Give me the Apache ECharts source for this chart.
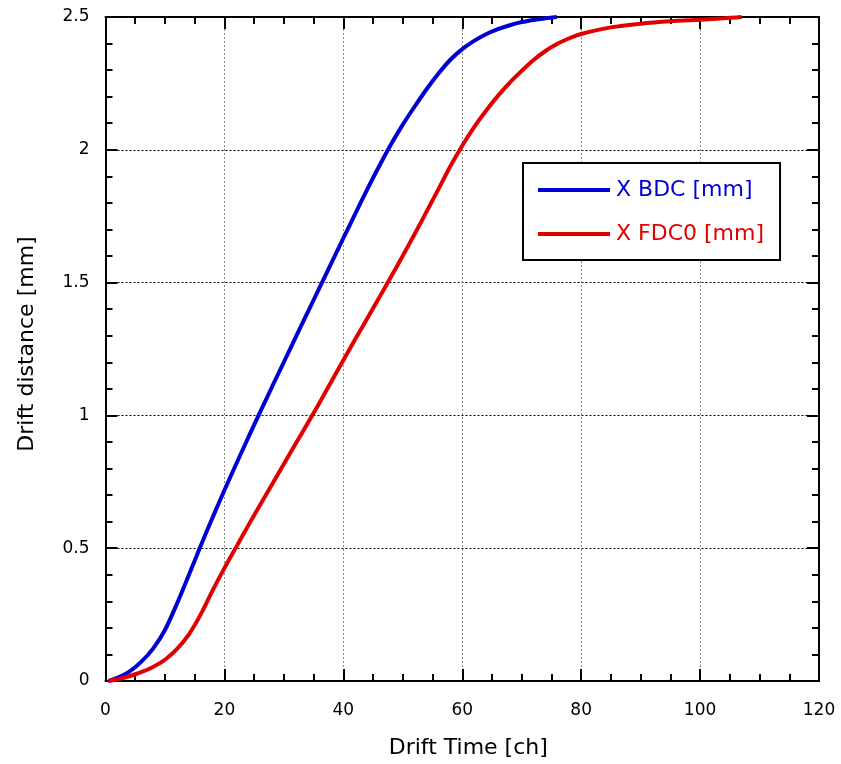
<!DOCTYPE html>
<html>
<head>
<meta charset="utf-8">
<script src="https://cdn.jsdelivr.net/npm/echarts@6/dist/echarts.min.js"></script>
<style>
html,body{margin:0;padding:0;background:#fff;}
#chart{width:841px;height:764px;}
</style>
</head>
<body>
<div id="chart"></div>
<script>
// Data (x: drift time [ch], y: drift distance [mm])
var seriesNames = ['X BDC [mm]', 'X FDC0 [mm]'];
var bdcX = [0.5, 2, 4, 6, 8, 10, 12, 14, 16, 18, 20, 22, 24, 26, 28, 30, 32, 34, 36, 38, 40, 42, 44, 46, 48, 50, 52, 54, 56, 58, 60, 62, 64, 66, 68, 70, 72, 74, 75.9];
var bdcY = [0, 0.012, 0.035, 0.072, 0.122, 0.192, 0.29, 0.398, 0.508, 0.615, 0.718, 0.818, 0.916, 1.012, 1.107, 1.201, 1.295, 1.388, 1.481, 1.574, 1.667, 1.759, 1.85, 1.937, 2.02, 2.095, 2.163, 2.228, 2.287, 2.339, 2.379, 2.41, 2.435, 2.454, 2.469, 2.481, 2.489, 2.495, 2.5];
var fdcX = [0.5, 2, 4, 6, 8, 10, 12, 14, 16, 18, 20, 22, 24, 26, 28, 30, 32, 34, 36, 38, 40, 42, 44, 46, 48, 50, 52, 54, 56, 58, 60, 62, 64, 66, 68, 70, 72, 74, 76, 78, 80, 85, 90, 95, 100, 104, 107];
var fdcY = [0, 0.006, 0.018, 0.033, 0.053, 0.08, 0.12, 0.175, 0.25, 0.34, 0.425, 0.505, 0.585, 0.663, 0.74, 0.817, 0.894, 0.97, 1.048, 1.128, 1.208, 1.287, 1.364, 1.442, 1.521, 1.601, 1.683, 1.767, 1.852, 1.938, 2.015, 2.085, 2.147, 2.203, 2.253, 2.297, 2.338, 2.372, 2.399, 2.42, 2.436, 2.461, 2.475, 2.484, 2.49, 2.495, 2.5];
var xTicks = [0, 20, 40, 60, 80, 100, 120];
var yTicks = [0, 0.5, 1, 1.5, 2, 2.5];

function pairs(xs, ys) { return xs.map(function (x, i) { return [x, ys[i]]; }); }

var FONT = 'DejaVu Sans';
var blue = '#0000d2';
var red = '#e00000';

var chart = echarts.init(document.getElementById('chart'));

var baseAxis = {
  axisLine: { show: true, onZero: false, lineStyle: { color: '#000', width: 2 } },
  axisTick: { show: true, inside: true, length: 12, lineStyle: { color: '#000', width: 2 } },
  minorTick: { show: true, length: 7, lineStyle: { color: '#000', width: 2 } }
};

chart.setOption({
  animation: false,
  backgroundColor: '#fff',
  grid: { left: 105.5, right: 22, top: 17, bottom: 82, containLabel: false },
  legend: {
    orient: 'vertical',
    left: 523,
    top: 163,
    padding: [16, 16, 15, 15],
    itemGap: 22,
    itemWidth: 72,
    itemHeight: 4,
    icon: 'rect',
    borderColor: '#000',
    borderWidth: 2,
    backgroundColor: '#fff',
    textStyle: { fontFamily: FONT, fontSize: 22, padding: [0, 0, 0, 1] },
    data: [
      { name: seriesNames[0], textStyle: { color: blue } },
      { name: seriesNames[1], textStyle: { color: red } }
    ]
  },
  xAxis: [
    Object.assign({}, baseAxis, {
      type: 'value', min: xTicks[0], max: xTicks[xTicks.length - 1], interval: 20,
      position: 'bottom',
      minorTick: Object.assign({}, baseAxis.minorTick, { splitNumber: 4 }),
      axisLabel: { fontFamily: FONT, fontSize: 17, color: '#000', margin: 21 },
      splitLine: { show: true, lineStyle: { color: '#8a8a8a', type: [2, 2], width: 1 } },
      name: 'Drift Time [ch]', nameLocation: 'middle', nameGap: 56,
      nameTextStyle: { fontFamily: FONT, fontSize: 22, color: '#000', padding: [0, 0, 0, 12] }
    }),
    Object.assign({}, baseAxis, {
      type: 'value', min: xTicks[0], max: xTicks[xTicks.length - 1], interval: 20,
      position: 'top',
      minorTick: Object.assign({}, baseAxis.minorTick, { splitNumber: 4 }),
      axisLabel: { show: false },
      splitLine: { show: false }
    })
  ],
  yAxis: [
    Object.assign({}, baseAxis, {
      type: 'value', min: yTicks[0], max: yTicks[yTicks.length - 1], interval: 0.5,
      position: 'left',
      minorTick: Object.assign({}, baseAxis.minorTick, { splitNumber: 5 }),
      axisLabel: { fontFamily: FONT, fontSize: 17, color: '#000', margin: 16 },
      splitLine: { show: true, lineStyle: { color: '#000', type: [2, 2], width: 1 } },
      name: 'Drift distance [mm]', nameLocation: 'middle', nameGap: 67, nameRotate: 90,
      nameTextStyle: { fontFamily: FONT, fontSize: 22, color: '#000', padding: [0, 0, 0, 10] }
    }),
    Object.assign({}, baseAxis, {
      type: 'value', min: yTicks[0], max: yTicks[yTicks.length - 1], interval: 0.5,
      position: 'right',
      minorTick: Object.assign({}, baseAxis.minorTick, { splitNumber: 5 }),
      axisLabel: { show: false },
      splitLine: { show: false }
    })
  ],
  series: [
    {
      name: seriesNames[0], type: 'line', data: pairs(bdcX, bdcY),
      showSymbol: false, smooth: 0.3,
      lineStyle: { color: blue, width: 4 }, itemStyle: { color: blue }, z: 3
    },
    {
      name: seriesNames[1], type: 'line', data: pairs(fdcX, fdcY),
      showSymbol: false, smooth: 0.3,
      lineStyle: { color: red, width: 4 }, itemStyle: { color: red }, z: 3
    }
  ]
});
</script>
</body>
</html>
